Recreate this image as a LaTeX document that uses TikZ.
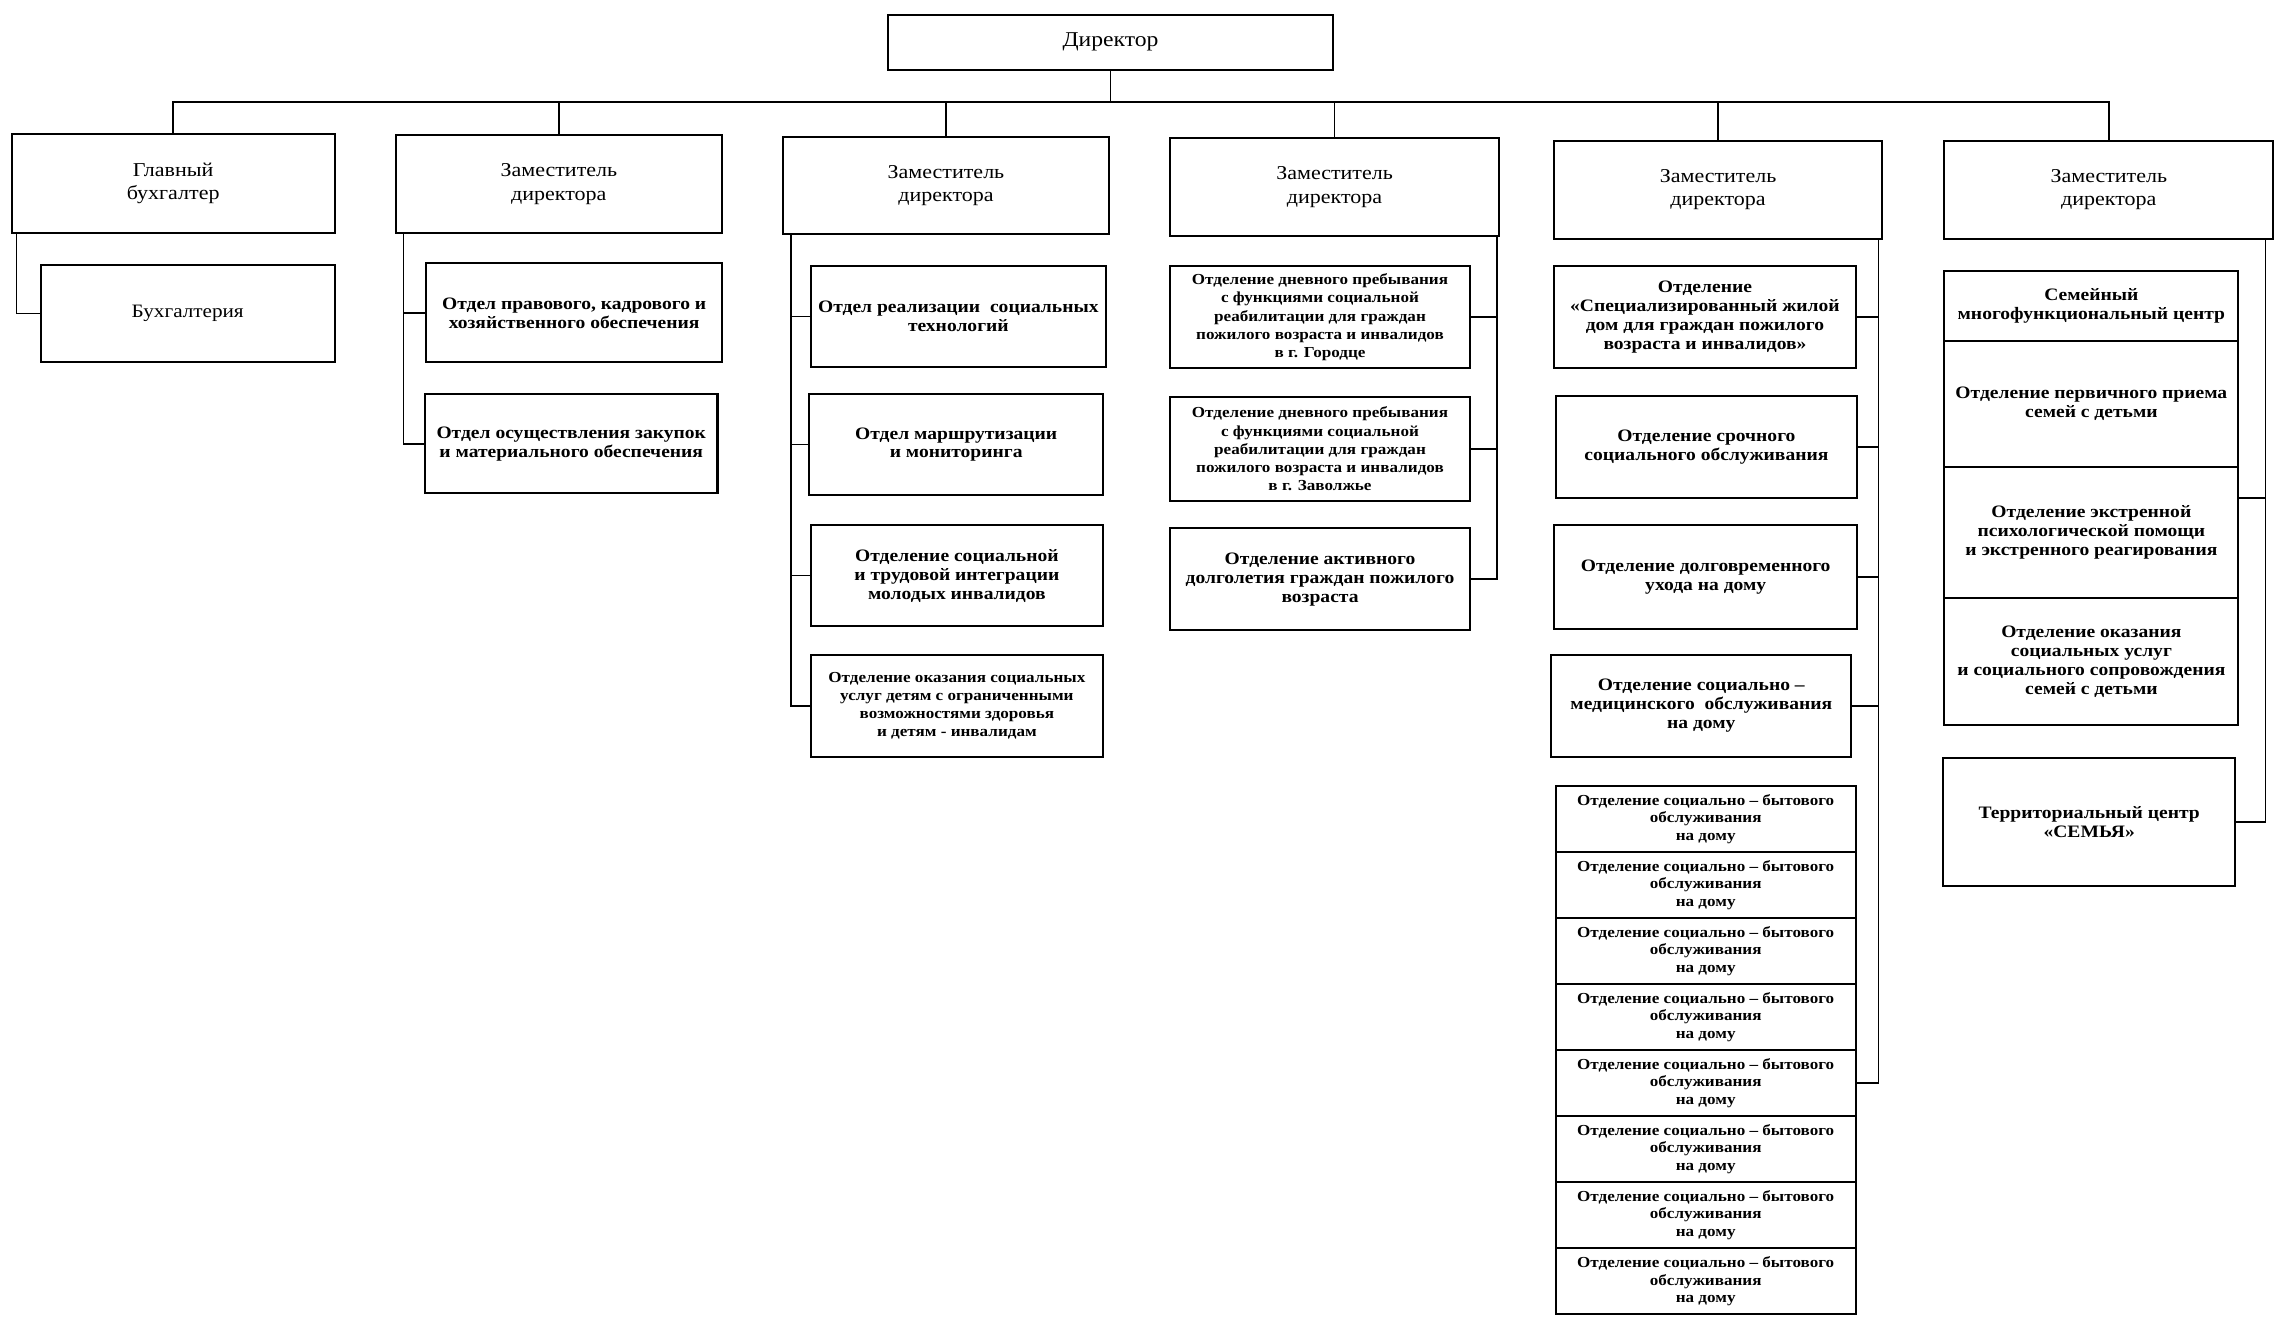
\documentclass[tikz,border=0pt]{standalone}
\usepackage{fontspec}
\setmainfont[FakeStretch=1.12]{Liberation Serif}
\tikzset{
  bx/.style={draw, line width=1.4pt, inner sep=1pt, align=center, fill=white},
  hdr/.style={bx, font=\fontsize{13.5}{16}\selectfont},
  med/.style={bx, font=\fontsize{12}{13}\selectfont\bfseries},
  sml/.style={bx, font=\fontsize{10.5}{12.5}\selectfont\bfseries},
  stk/.style={bx, font=\fontsize{10.5}{12}\selectfont\bfseries},
  ln/.style={line width=1.1pt},
}
\newcommand\mkbox[7]{\node[#6, minimum width={((#4)-(#2))*1pt}, minimum height={((#5)-(#3))*1pt}] (#1) at ({((#2)+(#4))/2},{((#3)+(#5))/2}) {#7};}
\begin{document}
\begin{tikzpicture}[x=1pt,y=-1pt]
\useasboundingbox[fill=white] (0,0) rectangle (1568,909.7);
% top level
\mkbox{dir}{610}{10}{916}{48}{hdr, font=\fontsize{14.5}{16}\selectfont}{Директор}
\mkbox{c1}{8}{92}{230}{160}{hdr}{Главный\\бухгалтер}
\mkbox{c2}{272}{93}{496}{160}{hdr}{Заместитель\\директора}
\mkbox{c3}{538}{94}{762}{161}{hdr}{Заместитель\\директора}
\mkbox{c4}{804}{95}{1030}{162}{hdr}{Заместитель\\директора}
\mkbox{c5}{1068}{97}{1293}{164}{hdr}{Заместитель\\директора}
\mkbox{c6}{1336}{97}{1562}{164}{hdr}{Заместитель\\директора}
% column 1
\mkbox{buh}{28}{182}{230}{249}{hdr, font=\fontsize{13}{16}\selectfont}{Бухгалтерия}
% column 2
\mkbox{c2a}{293}{181}{496}{249}{med}{Отдел правового, кадрового и\\хозяйственного обеспечения}
\mkbox{c2b}{292}{271}{493}{339}{med}{Отдел осуществления закупок\\и материального обеспечения}
% column 3
\mkbox{c3a}{557}{183}{760}{252}{med}{Отдел реализации\ \ социальных\\технологий}
\mkbox{c3b}{556}{271}{758}{340}{med}{Отдел маршрутизации\\и мониторинга}
\mkbox{c3c}{557}{361}{758}{430}{med}{Отделение социальной\\и трудовой интеграции\\молодых инвалидов}
\mkbox{c3d}{557}{450}{758}{520}{sml}{Отделение оказания социальных\\услуг детям с ограниченными\\возможностями здоровья\\и детям - инвалидам}
% column 4
\mkbox{c4a}{804}{183}{1010}{253}{sml}{Отделение дневного пребывания\\с функциями социальной\\реабилитации для граждан\\пожилого возраста и инвалидов\\в г. Городце}
\mkbox{c4b}{804}{273}{1010}{344}{sml}{Отделение дневного пребывания\\с функциями социальной\\реабилитации для граждан\\пожилого возраста и инвалидов\\в г. Заволжье}
\mkbox{c4c}{804}{363}{1010}{433}{med}{Отделение активного\\долголетия граждан пожилого\\возраста}
% column 5
\mkbox{c5a}{1068}{183}{1275}{253}{med}{Отделение\\«Специализированный жилой\\дом для граждан пожилого\\возраста и инвалидов»}
\mkbox{c5b}{1069}{272}{1276}{342}{med}{Отделение срочного\\социального обслуживания}
\mkbox{c5c}{1068}{361}{1276}{432}{med}{Отделение долговременного\\ухода на дому}
\mkbox{c5d}{1066}{450}{1272}{520}{med}{Отделение социально –\\медицинского\ \ обслуживания\\на дому}
\foreach \i in {1,...,8}{
  \mkbox{c5s\i}{1069}{540+(\i-1)*45.375}{1275}{540+\i*45.375}{stk}{Отделение социально – бытового\\обслуживания\\на дому}
}
% column 6
\mkbox{c6a}{1336}{186}{1538}{234}{med}{Семейный\\многофункциональный центр}
\mkbox{c6b}{1336}{234}{1538}{321}{med}{Отделение первичного приема\\семей с детьми}
\mkbox{c6c}{1336}{321}{1538}{411}{med}{Отделение экстренной\\психологической помощи\\и экстренного реагирования}
\mkbox{c6d}{1336}{411}{1538}{498}{med}{Отделение оказания\\социальных услуг\\и социального сопровождения\\семей с детьми}
\mkbox{c6t}{1335}{521}{1536}{609}{med}{Территориальный центр\\«СЕМЬЯ»}
% connectors
\coordinate (busL) at (0,70);
\draw[ln] (dir.south) -- (dir.south |- busL);
\draw[ln] (c1.north) |- (busL -| c6.north) -- (c6.north);
\foreach \n in {c2,c3,c4,c5} \draw[ln] (\n.north) -- (\n.north |- busL);
\coordinate (v1) at ([xshift=4pt]c1.south west);
\draw[ln] (v1) |- (buh.west);
\coordinate (v2) at ([xshift=6pt]c2.south west);
\draw[ln] (v2) |- (c2a.west);
\draw[ln] (v2) |- (c2b.west);
\coordinate (v3) at ([xshift=6pt]c3.south west);
\foreach \n in {c3a,c3b,c3c,c3d} \draw[ln] (v3) |- (\n.west);
\coordinate (v4) at ([xshift=-2pt]c4.south east);
\foreach \n in {c4a,c4b,c4c} \draw[ln] (v4) |- (\n.east);
\coordinate (v5) at ([xshift=-3pt]c5.south east);
\foreach \n in {c5a,c5b,c5c,c5d,c5s5} \draw[ln] (v5) |- (\n.east);
\coordinate (v6) at ([xshift=-6pt]c6.south east);
\draw[ln] (v6) |- ([yshift=-22pt]c6c.north east);
\draw[ln] (v6) |- (c6t.east);
\end{tikzpicture}
\end{document}
